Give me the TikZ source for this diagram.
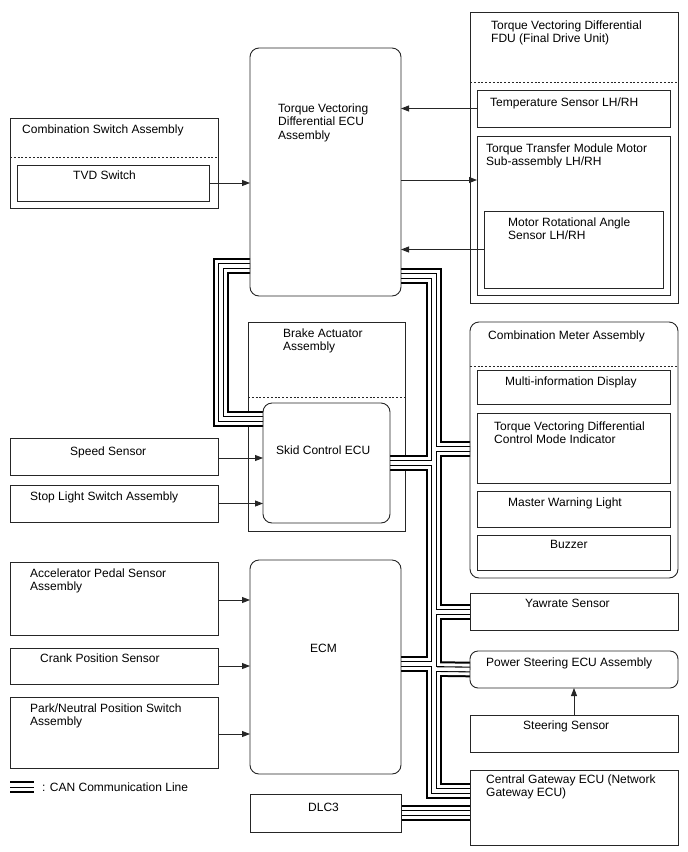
\documentclass[tikz,border=0pt]{standalone}
\usepackage{fontspec}
\setmainfont{Liberation Sans}
\usetikzlibrary{arrows.meta}
\begin{document}
\begin{tikzpicture}[x=1pt,y=-1pt,
  box/.style={draw=black!85, line width=0.9pt, anchor=north west, inner sep=0pt, outer sep=0pt},
  lbl/.style={anchor=base west, inner sep=0pt, align=left, font=\fontsize{12}{13.8}\selectfont},
  arr/.style={draw=black!85, line width=0.9pt, -{Triangle[length=8pt,width=6pt]}},
  dsh/.style={draw=black!85, line width=0.9pt, dash pattern=on 2pt off 1.8pt},
  frame/.style={draw=black!85, line width=0.9pt},
]
\useasboundingbox (0,0) rectangle (688,852);

% Brake actuator (crossed by CAN lines, drawn first)
\node[box, minimum width=157pt, minimum height=209pt] (bact) at (248,322) {};
\draw[dsh] (bact.west |- 0,397) -- (bact.east |- 0,397);
\node[lbl] (t-bact) at (283,350.8) {Brake Actuator\\Assembly};

% nodes the CAN lines connect to (frames drawn after the lines)
\path node[box, draw=none, minimum width=151pt, minimum height=248pt] (ecu) at (250,48) {}
      node[box, draw=none, minimum width=127pt, minimum height=120pt] (skid) at (263,403) {}
      node[box, draw=none, minimum width=208pt, minimum height=256pt] (cmeter) at (470,322) {}
      node[box, draw=none, minimum width=208pt, minimum height=37pt] (yaw) at (470,593) {}
      node[box, draw=none, minimum width=208pt, minimum height=37pt] (ps) at (470,651) {}
      node[box, draw=none, minimum width=208pt, minimum height=75pt] (cgw) at (470,770) {}
      node[box, draw=none, minimum width=151pt, minimum height=38pt] (dlc) at (250,794) {}
      node[box, draw=none, minimum width=151pt, minimum height=214pt] (ecm) at (250,560) {};

% CAN communication lines
\foreach \w/\c in {15.6/black, 11.6/white, 5.8/black, 3.6/white}{
  \draw[line width=\w pt, draw=\c]
    (ecu.west |- 0,266) -- (221,266) -- (221,419) -- (skid.west |- 0,419)
    (ecu.east |- 0,276) -- (434,276) -- (434,791) -- (cgw.west |- 0,791)
    (434,449) -- (cmeter.west |- 0,449)
    (skid.east |- 0,463) -- (434,463)
    (434,612) -- (yaw.west |- 0,612)
    (434,669) -- (ps.west)
    (ecm.east |- 0,664) -- (434,664)
    (dlc.east) -- (dlc.east -| cgw.west);
}

% Frames of the bus-connected boxes
\draw[frame, rounded corners=9pt] (ecu.north west) rectangle (ecu.south east);
\draw[frame, rounded corners=9pt] (skid.north west) rectangle (skid.south east);
\draw[frame, rounded corners=9pt] (cmeter.north west) rectangle (cmeter.south east);
\draw[frame] (yaw.north west) rectangle (yaw.south east);
\draw[frame, rounded corners=8pt] (ps.north west) rectangle (ps.south east);
\draw[frame] (cgw.north west) rectangle (cgw.south east);
\draw[frame] (dlc.north west) rectangle (dlc.south east);
\draw[frame, rounded corners=9pt] (ecm.north west) rectangle (ecm.south east);

\node[lbl] (t-ecu) at (278,139.6) {Torque Vectoring\\Differential ECU\\Assembly};
\node[lbl] (t-skid) at (276,454) {Skid Control ECU};
\node[lbl] (t-cmeter) at (488,339) {Combination Meter Assembly};
\draw[dsh] (cmeter.west |- 0,366) -- (cmeter.east |- 0,366);
\node[lbl] (t-yaw) at (525,607) {Yawrate Sensor};
\node[lbl] (t-ps) at (486,666) {Power Steering ECU Assembly};
\node[lbl] (t-cgw) at (486,796.8) {Central Gateway ECU (Network\\Gateway ECU)};
\node[lbl] (t-dlc) at (308,811) {DLC3};
\node[lbl] (t-ecm) at (310,652) {ECM};

% FDU
\node[box, minimum width=208pt, minimum height=291pt] (fdu) at (470,12) {};
\draw[dsh] (fdu.west |- 0,82) -- (fdu.east |- 0,82);
\node[lbl] (t-fdu) at (491,42.8) {Torque Vectoring Differential\\FDU (Final Drive Unit)};
\node[box, minimum width=193pt, minimum height=37pt] (temp) at (477,90) {};
\node[lbl] (t-temp) at (490,106) {Temperature Sensor LH/RH};
\node[box, minimum width=193pt, minimum height=159pt] (ttm) at (477,136) {};
\node[lbl] (t-ttm) at (486,165.8) {Torque Transfer Module Motor\\Sub-assembly LH/RH};
\node[box, minimum width=179pt, minimum height=77pt] (mras) at (484,211) {};
\node[lbl] (t-mras) at (508,239.8) {Motor Rotational Angle\\Sensor LH/RH};

% Combination switch
\node[box, minimum width=208pt, minimum height=90pt] (css) at (10,118) {};
\draw[dsh] (css.west |- 0,157) -- (css.east |- 0,157);
\node[lbl] (t-css) at (22,133) {Combination Switch Assembly};
\node[box, minimum width=192pt, minimum height=36pt] (tvd) at (17,165) {};
\node[lbl] (t-tvd) at (73,179) {TVD Switch};

% Left sensors
\node[box, minimum width=208pt, minimum height=37pt] (speed) at (10,438) {};
\node[lbl] (t-speed) at (70,455) {Speed Sensor};
\node[box, minimum width=208pt, minimum height=37pt] (stop) at (10,485) {};
\node[lbl] (t-stop) at (30,500) {Stop Light Switch Assembly};
\node[box, minimum width=208pt, minimum height=73pt] (accel) at (10,562) {};
\node[lbl] (t-accel) at (30,590.8) {Accelerator Pedal Sensor\\Assembly};
\node[box, minimum width=208pt, minimum height=36pt] (crank) at (10,648) {};
\node[lbl] (t-crank) at (40,662) {Crank Position Sensor};
\node[box, minimum width=208pt, minimum height=71pt] (park) at (10,697) {};
\node[lbl] (t-park) at (30,725.8) {Park/Neutral Position Switch\\Assembly};

% Combination meter contents
\node[box, minimum width=193pt, minimum height=34pt] (mid) at (477,370) {};
\node[lbl] (t-mid) at (505,385) {Multi-information Display};
\node[box, minimum width=193pt, minimum height=70pt] (tvdi) at (477,413) {};
\node[lbl] (t-tvdi) at (494,443.8) {Torque Vectoring Differential\\Control Mode Indicator};
\node[box, minimum width=193pt, minimum height=36pt] (mwl) at (477,491) {};
\node[lbl] (t-mwl) at (508,506) {Master Warning Light};
\node[box, minimum width=193pt, minimum height=35pt] (buzz) at (477,535) {};
\node[lbl] (t-buzz) at (550,548) {Buzzer};

% Steering sensor
\node[box, minimum width=208pt, minimum height=37pt] (steer) at (470,715) {};
\node[lbl] (t-steer) at (523,729) {Steering Sensor};

% Arrows
\draw[arr] (tvd.east) -- (tvd.east -| ecu.west);
\draw[arr] (temp.west) -- (temp.west -| ecu.east);
\draw[arr] (ecu.east |- 0,180) -- (ttm.west |- 0,180);
\draw[arr] (mras.west) -- (mras.west -| ecu.east);
\draw[arr] (speed.east |- 0,458) -- (skid.west |- 0,458);
\draw[arr] (stop.east) -- (stop.east -| skid.west);
\draw[arr] (accel.east |- 0,600) -- (ecm.west |- 0,600);
\draw[arr] (crank.east) -- (crank.east -| ecm.west);
\draw[arr] (park.east |- 0,734) -- (ecm.west |- 0,734);
\draw[arr] (steer.north) -- (ps.south);

% Legend
\draw[line width=1.5pt] (10,782) -- (34,782);
\draw[line width=1pt] (10,787) -- (34,787);
\draw[line width=2.2pt] (10,792) -- (34,792);
\node[lbl] (t-legend) at (42,791) {: CAN Communication Line};
\end{tikzpicture}
\end{document}
